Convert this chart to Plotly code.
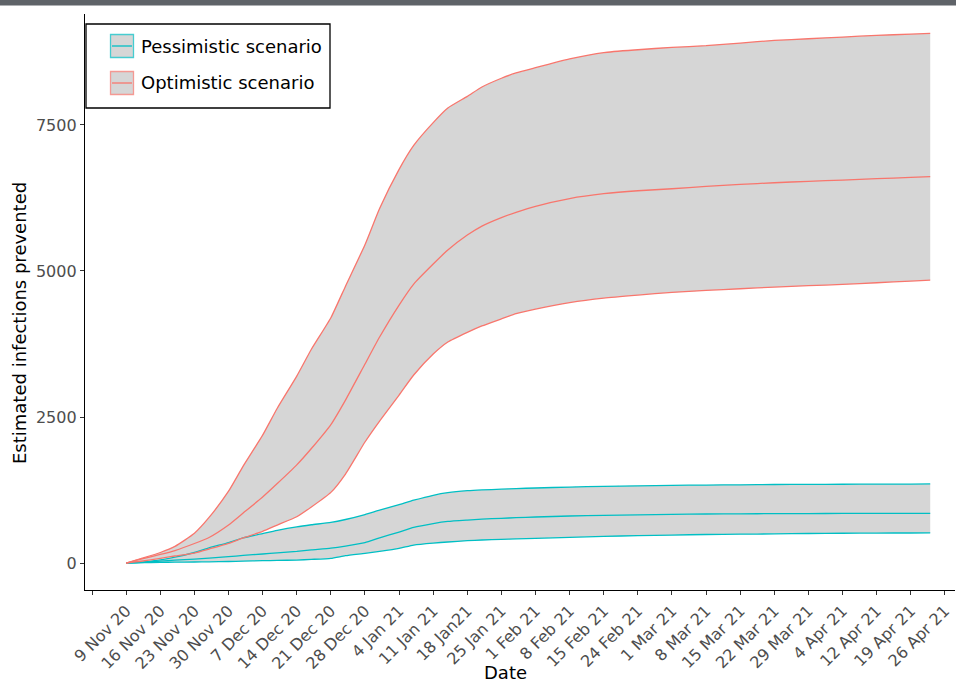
import datetime as dt
import plotly.graph_objects as go

# ---------------- data ----------------
start = dt.date(2020, 11, 9)
day_offsets = [0, 3, 7, 10, 14, 17, 21, 24, 28, 31, 35, 38, 42, 45, 49, 52, 56, 59,
               63, 66, 70, 73, 77, 80, 84, 91, 98, 105, 112, 119, 126, 133, 140,
               147, 154, 161, 165]
dates = [start + dt.timedelta(days=d) for d in day_offsets]

opt_upper = [0, 75, 180, 285, 510, 780, 1230, 1660, 2190, 2650, 3200, 3660, 4200,
             4740, 5450, 6070, 6740, 7150, 7540, 7790, 7990, 8150, 8300, 8390, 8480,
             8630, 8740, 8788, 8829, 8857, 8902, 8948, 8976, 9005, 9034, 9056, 9068]
opt_mid = [0, 68, 146, 214, 334, 437, 651, 856, 1130, 1360, 1680, 1960, 2370, 2790,
           3407, 3869, 4417, 4776, 5119, 5359, 5615, 5769, 5915, 6004, 6108, 6240,
           6323, 6374, 6408, 6449, 6483, 6511, 6535, 6557, 6580, 6603, 6614]
opt_lower = [0, 30, 80, 120, 171, 240, 337, 430, 542, 650, 793, 960, 1210, 1524,
             2072, 2431, 2876, 3219, 3578, 3784, 3950, 4060, 4180, 4270, 4348, 4460,
             4537, 4588, 4634, 4668, 4696, 4725, 4748, 4771, 4799, 4828, 4845]

pess_upper = [0, 15, 55, 100, 180, 260, 350, 430, 505, 560, 620, 655, 695, 745,
              830, 905, 1000, 1075, 1160, 1205, 1238, 1252, 1264, 1275, 1284, 1301,
              1313, 1321, 1330, 1335, 1338, 1344, 1347, 1349, 1352, 1352, 1354]
pess_mid = [0, 8, 34, 50, 68, 85, 108, 130, 154, 175, 200, 225, 255, 290, 348, 430,
            530, 610, 675, 712, 736, 752, 765, 777, 788, 805, 816, 825, 833, 839,
            842, 845, 847, 849, 850, 851, 851]
pess_lower = [0, 5, 12, 14, 17, 21, 26, 32, 40, 45, 51, 62, 80, 125, 166, 200, 251,
              308, 342, 360, 382, 394, 405, 413, 422, 440, 457, 468, 479, 488, 493,
              499, 505, 510, 513, 514, 515]

tick_dates = [dt.date(2020, 11, 2) + dt.timedelta(days=7 * k) for k in range(26)]
tick_labels = ["", "9 Nov 20", "16 Nov 20", "23 Nov 20", "30 Nov 20", "7 Dec 20",
               "14 Dec 20", "21 Dec 20", "28 Dec 20", "4 Jan 21", "11 Jan 21",
               "18 Jan21", "25 Jan 21", "1 Feb 21", "8 Feb 21", "15 Feb 21",
               "24 Feb 21", "1 Mar 21", "8 Mar 21", "15 Mar 21", "22 Mar 21",
               "29 Mar 21", "4 Apr 21", "12 Apr 21", "19 Apr 21", "26 Apr 21"]
y_ticks = [0, 2500, 5000, 7500]

series_names = ["Pessimistic scenario", "Optimistic scenario"]
x_title = "Date"
y_title = "Estimated infections prevented"

# ---------------- style ----------------
W, H = 956, 682
ML, MR, MT, MB = 85, 1, 14, 92
PW, PH = W - ML - MR, H - MT - MB
FONT = "DejaVu Sans"
OPT_COL = "#F8766D"
PESS_COL = "#00BFC4"
FILL = "#D6D6D6"
LINE_SHAPE = dict(shape="spline", smoothing=0.5)


def px(x):
    return (x - ML) / PW


def py(y):
    return 1 - (y - MT) / PH


fig = go.Figure()

bands = [
    (pess_lower, pess_upper, pess_mid, PESS_COL, series_names[0]),
    (opt_lower, opt_upper, opt_mid, OPT_COL, series_names[1]),
]

# ribbons
for lo, hi, mid, col, name in bands:
    fig.add_trace(go.Scatter(x=dates, y=lo, mode="lines",
                             line=dict(width=0, **LINE_SHAPE),
                             showlegend=False, hoverinfo="skip"))
    fig.add_trace(go.Scatter(x=dates, y=hi, mode="lines", fill="tonexty",
                             fillcolor=FILL, line=dict(width=0, **LINE_SHAPE),
                             showlegend=False, hoverinfo="skip", name=name))

# lines
for lo, hi, mid, col, name in bands:
    for arr in (lo, mid, hi):
        fig.add_trace(go.Scatter(x=dates, y=arr, mode="lines", name=name,
                                 line=dict(color=col, width=1.3, **LINE_SHAPE),
                                 showlegend=False))

# ---------------- manual legend (ggplot-style key) + titles ----------------
shapes = [
    dict(type="rect", xref="paper", yref="paper", x0=px(-2), x1=px(W + 2),
         y0=py(5.5), y1=py(-2), fillcolor="#5F6368", line=dict(width=0), layer="above"),
    dict(type="rect", xref="paper", yref="paper", x0=px(86), x1=px(330),
         y0=py(108), y1=py(24), fillcolor="white",
         line=dict(color="black", width=1.3), layer="above"),
]
annotations = []
key_rows = [(46, PESS_COL, "rgba(0,191,196,0.7)", series_names[0]),
            (83, OPT_COL, "rgba(248,118,109,0.7)", series_names[1])]
for cy, col, border, label in key_rows:
    shapes.append(dict(type="rect", xref="paper", yref="paper",
                       x0=px(110.5), x1=px(133.5), y0=py(cy + 11.5), y1=py(cy - 11.5),
                       fillcolor=FILL, line=dict(color=border, width=1.3), layer="above"))
    shapes.append(dict(type="line", xref="paper", yref="paper",
                       x0=px(112), x1=px(132), y0=py(cy), y1=py(cy),
                       line=dict(color=col, width=1.3), layer="above"))
    annotations.append(dict(xref="paper", yref="paper", x=px(139), y=py(cy),
                            text=label, showarrow=False, xanchor="left",
                            yanchor="middle",
                            font=dict(family=FONT, size=18, color="black")))

annotations.append(dict(xref="paper", yref="paper", x=px(505), y=py(672),
                        text=x_title, showarrow=False, xanchor="center",
                        yanchor="middle",
                        font=dict(family=FONT, size=18, color="black")))
annotations.append(dict(xref="paper", yref="paper", x=px(19), y=py(323),
                        text=y_title, showarrow=False, textangle=-90,
                        xanchor="center", yanchor="middle",
                        font=dict(family=FONT, size=18, color="black")))

fig.update_layout(
    width=W, height=H,
    margin=dict(l=ML, r=MR, t=MT, b=MB),
    paper_bgcolor="white", plot_bgcolor="white",
    font=dict(family=FONT, color="black"),
    showlegend=False,
    shapes=shapes,
    annotations=annotations,
    xaxis=dict(
        type="date",
        range=["2020-10-31 13:00", "2021-04-28 02:00"],
        tickmode="array", tickvals=tick_dates, ticktext=tick_labels,
        tickangle=-45, tickfont=dict(family=FONT, size=16, color="#4D4D4D"),
        ticks="outside", ticklen=4, tickcolor="#333333", tickwidth=1,
        showline=True, linecolor="black", linewidth=1.3,
        showgrid=False, zeroline=False,
    ),
    yaxis=dict(
        range=[-462, 9400],
        tickmode="array", tickvals=y_ticks, ticktext=[str(v) for v in y_ticks],
        tickfont=dict(family=FONT, size=16, color="#4D4D4D"),
        ticks="outside", ticklen=4, tickcolor="#333333", tickwidth=1,
        showline=True, linecolor="black", linewidth=1.3,
        showgrid=False, zeroline=False,
    ),
)

fig.write_html("out.html",
               config={"displayModeBar": False},
               post_script="document.body.style.margin='0px';"
                           "document.body.style.overflow='hidden';")
